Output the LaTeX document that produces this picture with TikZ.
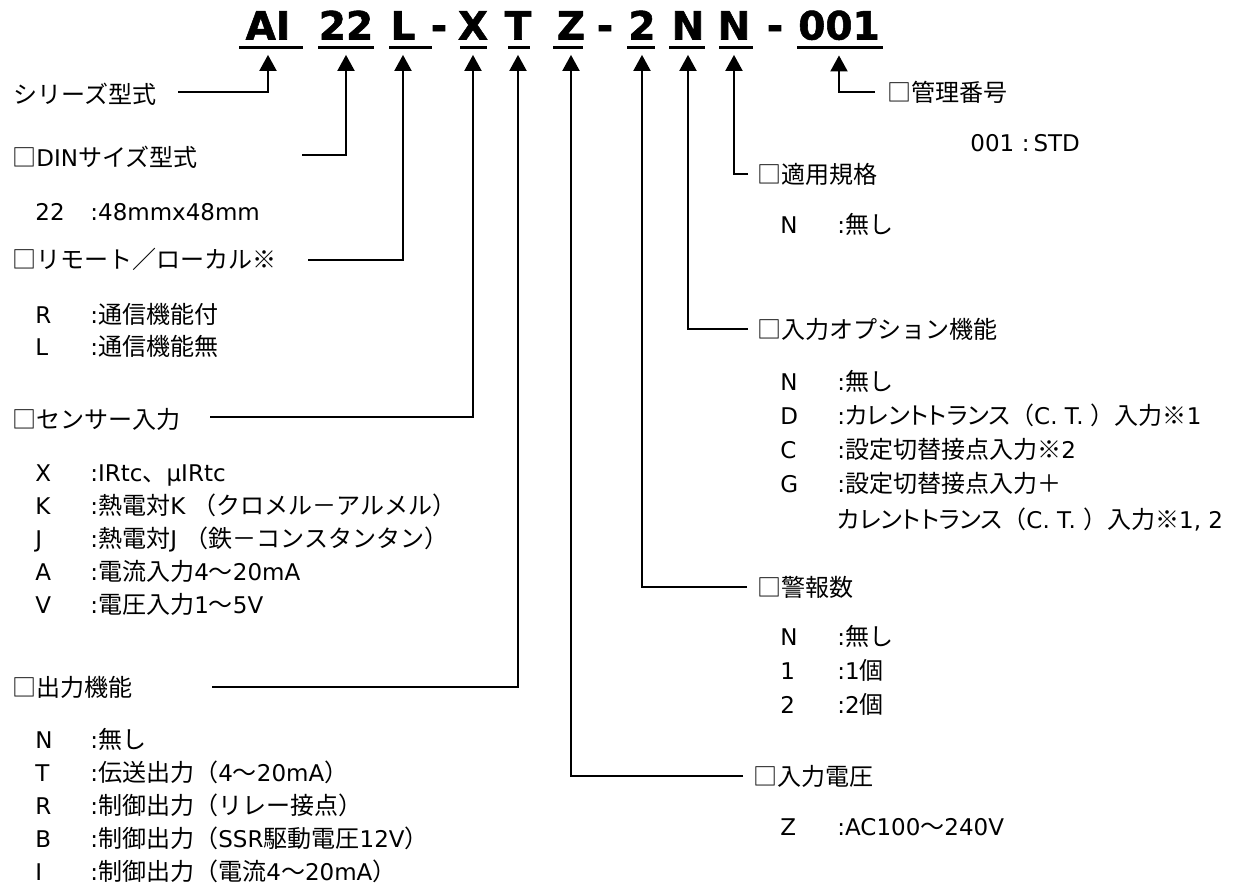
\documentclass[tikz,border=0pt]{standalone}
\usepackage{fontspec}
\setmainfont{DejaVu Sans}
\newfontfamily\jpfont[Scale=1.045]{Noto Sans CJK JP}
\newfontfamily\jpnarrow[Scale=1.045,RawFeature=+palt]{Noto Sans CJK JP}
\newfontfamily\ttlfont[FakeBold=1.4]{DejaVu Sans Bold}
\newcommand{\jt}[1]{{\jpfont #1}}
\newcommand{\jn}[1]{{\jpnarrow #1}}
\usetikzlibrary{arrows.meta}
\usetikzlibrary{positioning}

\begin{document}
\begin{tikzpicture}[x=0.5pt,y=-0.5pt,>={Triangle[length=8pt,width=8.5pt]}]
	\tikzset{ttl/.style = {anchor=base, inner xsep=0pt, inner ysep=7.5pt, font=\fontsize{19.5}{22}\ttlfont},
		lbl/.style = {anchor=base west, inner sep=0pt, font=\fontsize{11.5}{14}\selectfont},
		pointer/.style = {line width=1pt, ->},
		uline/.style = {line width=1.75pt}}
	\useasboundingbox (0,0) rectangle (1250,889);
	
	% model code
	\node[ttl] (tAI) at (268,39.5) {AI};
	\node[ttl] (t22) at (346,39.5) {22};
	\node[ttl] (tL) at (403,39.5) {L};
	\node[ttl] (dashA) at (439,39.5) {-};
	\node[ttl] (tX) at (473,39.5) {X};
	\node[ttl] (tT) at (518,39.5) {T};
	\node[ttl] (tZ) at (571,39.5) {Z};
	\node[ttl] (dashB) at (605,39.5) {-};
	\node[ttl] (t2) at (642,39.5) {2};
	\node[ttl] (tNa) at (688,39.5) {N};
	\node[ttl] (tNb) at (734,39.5) {N};
	\node[ttl] (dashC) at (775,39.5) {-};
	\node[ttl] (t001) at (839,39.5) {001};
	\foreach \a/\b in {239/303, 318/374, 389/432, 460/487, 508/530, 553/583, 627/655, 669/705, 719/753, 797/883}
		\draw[uline] (\a,47.5) -- (\b,47.5);
	
	% left column
	\node[lbl] (series) at (13,103) {\jt{シリーズ型式}};
	\node[lbl] (din) at (12,166) {\jt{□}DIN\jt{サイズ型式}};
	\node[lbl] (dinA) at (35,220) {22};
	\node[lbl] (dinAd) at (90,220) {:48mmx48mm};
	\node[lbl] (remote) at (12,268) {\jt{□リモート／ローカル※}};
	\foreach \c/\t [count=\i] in {R/\jt{通信機能付}, L/\jt{通信機能無}}{
		\node[lbl] (remote\i) at (35,323+32*\i-32) {\c};
		\node[lbl] (remote\i d) at (90,323+32*\i-32) {:\t};
	}
	\node[lbl] (sensor) at (12,428) {\jt{□センサー入力}};
	\foreach \c/\t [count=\i] in {X/{IRtc\jt{、}μIRtc}, K/{\jt{熱電対}K \jt{（クロメル－アルメル）}},
		J/{\jt{熱電対}J \jt{（鉄－コンスタンタン）}}, A/{\jt{電流入力}4\jt{〜}20mA}, V/{\jt{電圧入力}1\jt{〜}5V}}{
		\node[lbl] (sensor\i) at (35,481+33.2*\i-33.2) {\c};
		\node[lbl] (sensor\i d) at (90,481+33.2*\i-33.2) {:\t};
	}
	\node[lbl] (output) at (12,696) {\jt{□出力機能}};
	\foreach \c/\t [count=\i] in {N/\jt{無し}, T/{\jt{伝送出力（}4\jt{〜}20mA\jt{）}}, R/\jt{制御出力（リレー接点）},
		B/{\jt{制御出力（}SSR\jt{駆動電圧}12V\jt{）}}, I/{\jt{制御出力（電流}4\jt{〜}20mA\jt{）}}}{
		\node[lbl] (output\i) at (35,748+33.2*\i-33.2) {\c};
		\node[lbl] (output\i d) at (90,748+33.2*\i-33.2) {:\t};
	}
	
	% right column
	\node[lbl] (mgmt) at (887,101) {\jt{□管理番号}};
	\node[lbl] (mgmtA) at (970,151) {001\,\,:\,STD};
	\node[lbl] (std) at (757,183) {\jt{□適用規格}};
	\node[lbl] (std1) at (780,233) {N};
	\node[lbl] (std1d) at (837,233) {:\jt{無し}};
	\node[lbl] (opt) at (757,338) {\jt{□入力オプション機能}};
	\foreach \c/\t [count=\i] in {N/\jt{無し}, D/{\jn{カレントトランス}\jt{（}C. T. \jt{）入力※}1},
		C/{\jt{設定切替接点入力※}2}, G/\jt{設定切替接点入力＋}}{
		\node[lbl] (opt\i) at (780,390+34.3*\i-34.3) {\c};
		\node[lbl] (opt\i d) at (837,390+34.3*\i-34.3) {:\t};
	}
	\node[lbl] (opt5d) at (837,528) {\jn{カレントトランス}\jt{（}C. T. \jt{）入力※}1, 2};
	\node[lbl] (alarm) at (757,596) {\jt{□警報数}};
	\foreach \c/\t [count=\i] in {N/\jt{無し}, 1/{1\jt{個}}, 2/{2\jt{個}}}{
		\node[lbl] (alarm\i) at (780,645+34*\i-34) {\c};
		\node[lbl] (alarm\i d) at (837,645+34*\i-34) {:\t};
	}
	\node[lbl] (volt) at (753,785) {\jt{□入力電圧}};
	\node[lbl] (volt1) at (780,835) {Z};
	\node[lbl] (volt1d) at (837,835) {:AC100\jt{〜}240V};
	
	% leader lines
	\coordinate (sSeries) at (178,92);
	\coordinate (sDin) at (302,155);
	\coordinate (sRemote) at (308,260);
	\coordinate (sSensor) at (210,417);
	\coordinate (sOutput) at (212,687);
	\draw[pointer] (sSeries) -| (tAI);
	\draw[pointer] (sDin) -| (t22);
	\draw[pointer] (sRemote) -| (tL);
	\draw[pointer] (sSensor) -| (tX);
	\draw[pointer] (sOutput) -| (tT);
	\draw[pointer] ([xshift=-5pt]volt.west) -| (tZ);
	\draw[pointer] ([xshift=-5pt]alarm.west) -| (t2);
	\draw[pointer] ([xshift=-4.5pt]opt.west) -| (tNa);
	\draw[pointer] ([xshift=-4.5pt]std.west) -| (tNb);
	\draw[pointer] ([xshift=-6pt]mgmt.west) -| (t001);
\end{tikzpicture}
\end{document}
